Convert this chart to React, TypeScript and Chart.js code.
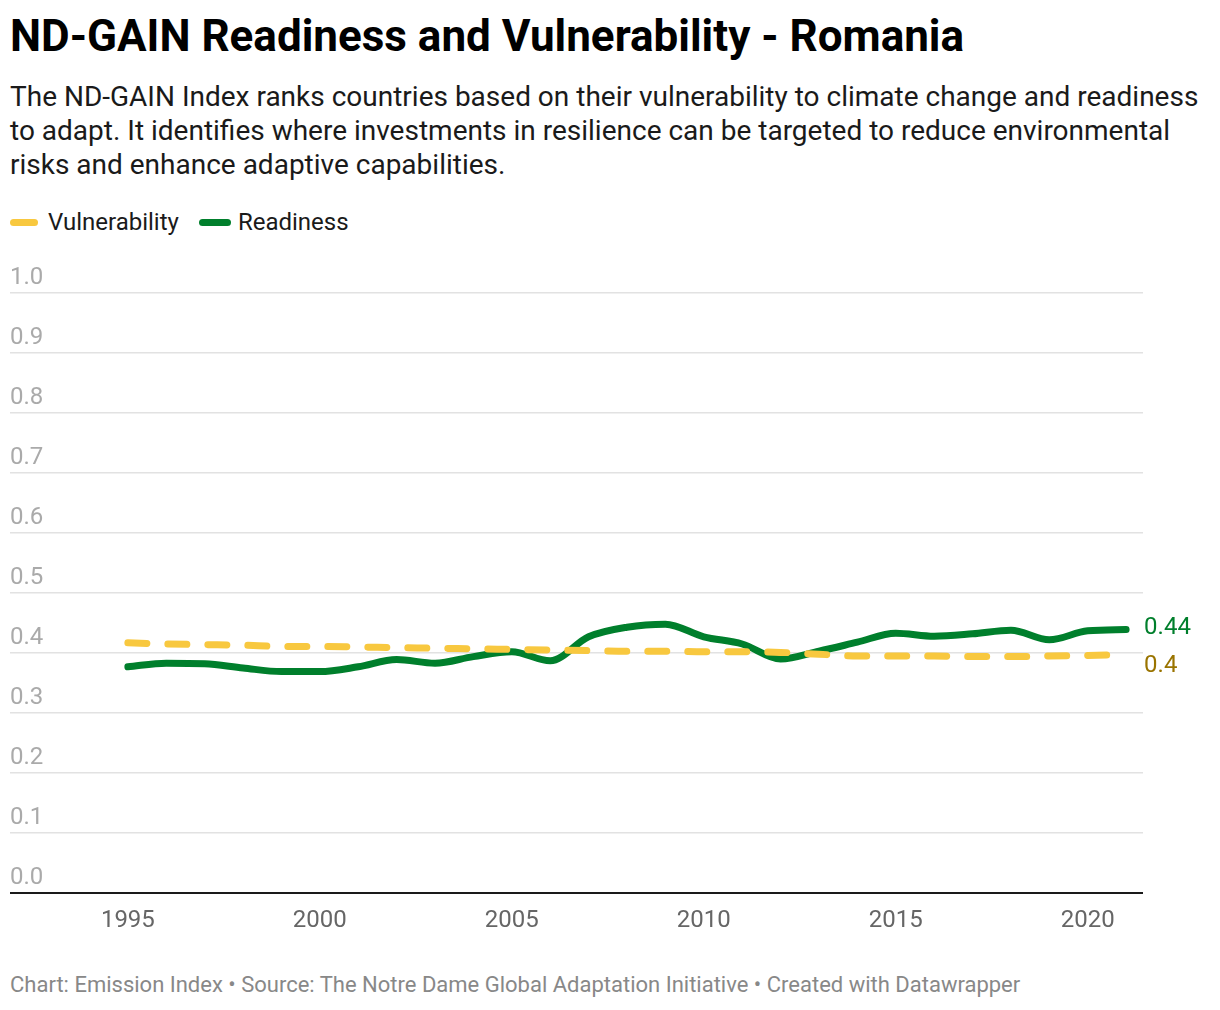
import React, { useEffect, useRef } from "react";
import { Chart, registerables } from "chart.js";

Chart.register(...registerables);

const years = [1995, 1996, 1997, 1998, 1999, 2000, 2001, 2002, 2003, 2004, 2005, 2006, 2007, 2008, 2009, 2010, 2011, 2012, 2013, 2014, 2015, 2016, 2017, 2018, 2019, 2020, 2021];
const vulnerability = [0.417, 0.415, 0.414, 0.413, 0.411, 0.411, 0.410, 0.409, 0.408, 0.407, 0.406, 0.405, 0.404, 0.403, 0.403, 0.402, 0.402, 0.401, 0.398, 0.395, 0.395, 0.395, 0.394, 0.394, 0.395, 0.396, 0.397];
const readiness = [0.377, 0.383, 0.382, 0.375, 0.369, 0.369, 0.377, 0.389, 0.383, 0.394, 0.402, 0.387, 0.427, 0.443, 0.448, 0.427, 0.415, 0.390, 0.403, 0.418, 0.433, 0.428, 0.432, 0.438, 0.422, 0.437, 0.439];
const yTicks = [0, 0.1, 0.2, 0.3, 0.4, 0.5, 0.6, 0.7, 0.8, 0.9, 1.0];
const xTicks = [1995, 2000, 2005, 2010, 2015, 2020];
const endLabels = ["0.4", "0.44"];

const GREEN = "#007f2c";
const YELLOW = "#f8c83f";
const YELLOW_TEXT = "#9a7400";
const FONT = "Roboto, 'Noto Sans', sans-serif";

const CANVAS_TOP = 250;
const PLOT_TOP = 293;

const endLabelPlugin = {
  id: "endLabels",
  afterDatasetsDraw(chart: any) {
    const ctx = chart.ctx;
    ctx.save();
    ctx.font = `24px ${FONT}`;
    ctx.textBaseline = "middle";
    ctx.textAlign = "left";
    const offsets = [11, -2];
    const colors = [YELLOW_TEXT, GREEN];
    chart.data.datasets.forEach((ds: any, i: number) => {
      const meta = chart.getDatasetMeta(i);
      const pt = meta.data[meta.data.length - 1];
      if (!pt) return;
      ctx.fillStyle = colors[i];
      ctx.fillText(endLabels[i], pt.x + 18, pt.y + offsets[i]);
    });
    ctx.restore();
  },
};

function LineChart() {
  const ref = useRef<HTMLCanvasElement | null>(null);
  useEffect(() => {
    if (!ref.current) return;
    const chart = new Chart(ref.current, {
      type: "line",
      data: {
        labels: years,
        datasets: [
          {
            label: "Vulnerability",
            data: years.map((y, i) => ({ x: y, y: vulnerability[i] })),
            borderColor: YELLOW,
            borderWidth: 7,
            borderDash: [19, 21],
            borderCapStyle: "round",
            pointRadius: 0,
            cubicInterpolationMode: "monotone",
            fill: false,
          },
          {
            label: "Readiness",
            data: years.map((y, i) => ({ x: y, y: readiness[i] })),
            borderColor: GREEN,
            borderWidth: 7,
            borderCapStyle: "round",
            borderJoinStyle: "round",
            pointRadius: 0,
            cubicInterpolationMode: "monotone",
            fill: false,
          },
        ],
      },
      options: {
        animation: false,
        responsive: false,
        maintainAspectRatio: false,
        layout: { padding: { top: PLOT_TOP - CANVAS_TOP, left: 10, right: 77, bottom: 0 } },
        plugins: {
          legend: { display: false },
          tooltip: { enabled: false },
        },
        scales: {
          x: {
            type: "linear",
            min: 1991.93,
            max: 2021.44,
            afterFit: (s: any) => {
              s.height = 50;
            },
            afterBuildTicks: (s: any) => {
              s.ticks = xTicks.map((v) => ({ value: v }));
            },
            grid: { display: false, drawTicks: false },
            border: { display: false },
            ticks: {
              color: "#666",
              font: { family: FONT, size: 24 },
              padding: 14,
              maxRotation: 0,
              callback: (v: any) => String(v),
            },
          },
          y: {
            min: 0,
            max: 1,
            afterFit: (s: any) => {
              s.width = 0;
            },
            afterBuildTicks: (s: any) => {
              s.ticks = yTicks.map((v) => ({ value: v }));
            },
            border: { display: false },
            grid: {
              drawTicks: false,
              color: (c: any) => (c.tick && c.tick.value === 0 ? "#1a1a1a" : "#e2e2e2"),
              lineWidth: (c: any) => (c.tick && c.tick.value === 0 ? 2 : 1.5),
            },
            ticks: {
              mirror: true,
              padding: 0,
              labelOffset: -15,
              color: "#aaaaaa",
              font: { family: FONT, size: 24 },
              callback: (v: any) => Number(v).toFixed(1),
            },
          },
        },
      },
      plugins: [endLabelPlugin],
    } as any);
    return () => chart.destroy();
  }, []);
  const h = 893 - CANVAS_TOP + 50;
  return (
    <canvas
      ref={ref}
      width={1220}
      height={h}
      style={{ position: "absolute", left: 0, top: CANVAS_TOP, width: 1220, height: h }}
    />
  );
}

export default function App() {
  return (
    <div
      style={{
        position: "absolute",
        left: 0,
        top: 0,
        width: 1220,
        height: 1010,
        background: "#fff",
        fontFamily: FONT,
        overflow: "hidden",
      }}
    >
      <div
        style={{
          position: "absolute",
          left: 10,
          top: 10,
          fontSize: 44,
          fontWeight: 700,
          color: "#000",
          lineHeight: "52px",
          whiteSpace: "nowrap",
        }}
      >
        ND-GAIN Readiness and Vulnerability - Romania
      </div>
      <div
        style={{
          position: "absolute",
          left: 10,
          top: 80,
          width: 1205,
          fontSize: 28,
          color: "#1a1a1a",
          lineHeight: "34px",
        }}
      >
        The ND-GAIN Index ranks countries based on their vulnerability to climate change and readiness to adapt. It identifies where investments in resilience can be targeted to reduce environmental risks and enhance adaptive capabilities.
      </div>
      <div
        style={{
          position: "absolute",
          left: 10,
          top: 207,
          height: 30,
          display: "flex",
          alignItems: "center",
          fontSize: 24,
          color: "#1a1a1a",
        }}
      >
        <span style={{ display: "inline-block", width: 28, height: 7, borderRadius: 4, background: YELLOW, marginRight: 10 }} />
        <span style={{ marginRight: 20 }}>Vulnerability</span>
        <span style={{ display: "inline-block", width: 32, height: 7, borderRadius: 4, background: GREEN, marginRight: 7 }} />
        <span>Readiness</span>
      </div>
      <LineChart />
      <div
        style={{
          position: "absolute",
          left: 10,
          top: 972,
          fontSize: 22,
          color: "#888",
          whiteSpace: "nowrap",
        }}
      >
        Chart: Emission Index • Source: The Notre Dame Global Adaptation Initiative • Created with Datawrapper
      </div>
    </div>
  );
}
